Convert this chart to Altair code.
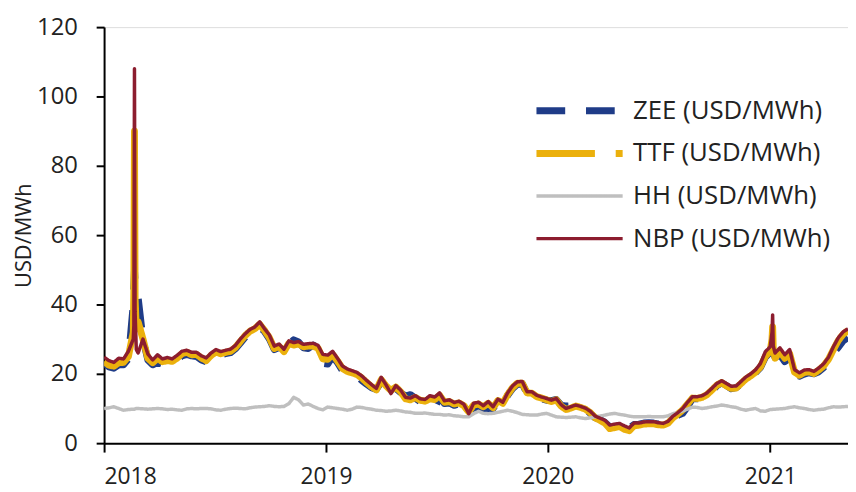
import altair as alt
import pandas as pd

# ---- series metadata ----
SERIES = ["ZEE (USD/MWh)", "TTF (USD/MWh)", "HH (USD/MWh)", "NBP (USD/MWh)"]
COLORS = ["#1F3C88", "#EBB00C", "#BFBFBF", "#8C1D2F"]
WIDTHS = [7, 7, 3.5, 3.5]
LEGEND_DASHES = [[29, 21], [59, 21, 7, 21], [1, 0], [1, 0]]
LINE_DASHES = [[29, 21], [1, 0], [1, 0], [1, 0]]

# ---- regular sampling grid (every 8 days from 2018-01-01) ----
GRID_START = "2018-01-01"
GRID_STEP = "8D"

nbp = [24.8, 23.8, 23.3, 24.5, 24.3, 26.5, 30, 26, 30, 25.7,
       24, 25.5, 24.3, 24.7, 24.3, 25.3, 26.5, 26.8, 26.2, 26.2,
       25.2, 24.6, 26, 27, 26.4, 26.8, 27.1, 28.2, 30, 31.5,
       32.8, 33.5, 35, 33, 31.2, 28, 28.6, 27.1, 29.5, 29,
       29.3, 28.5, 28.7, 28.8, 28.2, 25.6, 25.4, 26.5, 24.5, 22.3,
       21.4, 20.9, 20.4, 19.4, 18.1, 16.9, 15.8, 19, 16.8, 14.3,
       16.6, 15.3, 13.2, 13, 13.7, 12.8, 12.6, 13.7, 13.3, 14.5,
       12.2, 12.5, 11.7, 12.1, 11.2, 8.5, 11.5, 11.8, 10.8, 12,
       10.5, 12.7, 11.8, 14.5, 16.5, 17.7, 17.8, 14.8, 14.8, 13.8,
       13.3, 12.9, 12.4, 12.9, 11.1, 10, 10.5, 11, 10.6, 10.1,
       9.2, 7.8, 7.2, 6.6, 5.2, 5.5, 5.7, 5, 4.4, 5.8,
       5.8, 6.1, 6.2, 6.2, 5.9, 5.7, 6.3, 7.8, 8.8, 10,
       11.8, 13.4, 13.4, 13.7, 14.5, 15.8, 17.2, 18, 17.2, 16.4,
       16.5, 17.8, 19.1, 20, 21.2, 23, 26.4, 27.8, 26, 27.5,
       25.5, 27, 21.2, 20.3, 21.1, 21.2, 20.7, 21.7, 22.9, 24.8,
       27.8, 30.4, 32.1, 33]

ttf = [23.5, 22.5, 22.2, 23.2, 23.3, 25, 32, 35, 30, 24.5,
       23.2, 24.5, 23.5, 23.8, 23.6, 24.5, 25.8, 26.2, 25.5, 25.6,
       24.6, 23.8, 25.3, 26.3, 25.8, 26.2, 26.5, 27.6, 29.3, 31,
       32.3, 33, 34.3, 32.5, 30.4, 27.3, 27.9, 26.4, 28.8, 28.3,
       28.6, 27.8, 28, 28, 27.4, 24.3, 24.2, 25.6, 23.7, 21.6,
       20.7, 20.3, 19.8, 18.8, 17.5, 16.3, 15.4, 18.3, 16.5, 15.2,
       16.2, 14.8, 12.8, 12.5, 13.2, 12.4, 12.1, 12.8, 12.6, 13.8,
       11.8, 12, 11.3, 11.6, 10.8, 9, 11, 11.3, 10.5, 11.5,
       10.2, 12.3, 11.5, 14, 16, 17.3, 17.3, 14.5, 14.4, 13.4,
       13, 12.5, 12, 12.5, 10.7, 9.7, 10.1, 10.7, 10.3, 9.8,
       8.8, 7.3, 6.6, 5.8, 4.2, 4.5, 4.8, 4, 3.6, 5,
       5.2, 5.5, 5.6, 5.6, 5.3, 5.2, 5.8, 7.3, 8.4, 9.6,
       11.3, 13, 12.9, 13.2, 14, 15.3, 16.7, 17.5, 16.5, 15.8,
       15.9, 17.2, 18.5, 19.4, 20.5, 22, 25, 26.5, 24.5, 26.5,
       24.5, 25.8, 20.5, 19.6, 20.4, 20.6, 20.1, 21.1, 22.3, 24.2,
       27, 29.6, 31.4, 32.5]

zee = [23, 22, 21.6, 22.6, 22.6, 24.3, 40, 42, 30, 24,
       22.6, 23.3, 22.8, 23.2, 23, 23.8, 25.2, 25.6, 25.2, 25,
       24, 23.5, 24.5, 25.8, 25.5, 25.8, 26.1, 27.2, 28.8, 30.5,
       31.8, 32.4, 33.5, 32.2, 30, 27, 27.6, 26.2, 28.5, 29.8,
       29.2, 27.5, 27.3, 28.3, 27.5, 23, 22.8, 25, 23.2, 21,
       20.2, 19.8, 19.3, 18.1, 17, 16, 15.5, 17.6, 16.2, 14.5,
       15.8, 14.6, 13.6, 14, 13, 12, 11.6, 10.6, 10.2, 13.2,
       11.4, 11.6, 10.9, 11.3, 10.3, 8.2, 10.5, 10.3, 9.4, 9.8,
       10, 12, 11, 13.8, 15.7, 17, 17.2, 14.2, 14.2, 13.3,
       12.8, 12.4, 12.3, 12.6, 11, 10.7, 10.8, 10.4, 10.1, 9.6,
       8.6, 7.3, 6.8, 6, 4.7, 5, 5.1, 4.5, 4.3, 5.4,
       5.5, 5.8, 5.9, 5.8, 5.5, 5.5, 6, 7.2, 8, 8.6,
       10.5, 12.8, 12.8, 13, 13.6, 15, 16.5, 17.4, 16.6, 15.7,
       16, 17, 17.6, 19, 20.4, 21.8, 24.8, 26.2, 24.7, 25.5,
       23.5, 24.5, 20, 19.3, 19.9, 20.3, 20, 20.6, 21.8, 23.5,
       26, 27.6, 29.5, 30.5]

hh = [10, 10.2, 10.5, 10, 9.5, 9.7, 9.8, 10, 9.9, 9.8,
      9.9, 10, 9.9, 9.7, 9.8, 9.6, 9.5, 9.9, 10, 9.9,
      10, 10, 9.9, 9.6, 9.5, 9.8, 10, 10.1, 10, 9.9,
      10.2, 10.4, 10.5, 10.6, 10.8, 10.6, 10.5, 10.6, 11.4, 13.2,
      12.5, 11, 11.3, 10.6, 10, 9.6, 10.4, 10.2, 10, 9.8,
      9.5, 9.8, 10.4, 10.3, 10, 9.8, 9.5, 9.4, 9.2, 9.3,
      9.5, 9.3, 9, 8.9, 8.6, 8.6, 8.7, 8.5, 8.3, 8.3,
      8.1, 8.2, 7.9, 7.8, 7.6, 7.6, 8.5, 9.2, 8.6, 8.5,
      8.6, 8.9, 9.2, 9.5, 9.2, 8.8, 8.3, 8.2, 8.1, 8.1,
      8.4, 8.6, 8.1, 7.6, 7.5, 7.4, 7.5, 7.6, 7.3, 7.1,
      7.3, 7.6, 7.8, 8.1, 8.4, 8.6, 8.3, 8.1, 7.8, 7.6,
      7.6, 7.6, 7.7, 7.6, 7.6, 7.6, 7.9, 8.5, 8.8, 9.3,
      9.8, 10.4, 10.3, 10, 10.2, 10.5, 10.7, 11, 10.8, 10.5,
      10.3, 9.8, 9.5, 9.8, 10, 9.3, 9.2, 9.7, 9.8, 9.9,
      10, 10.3, 10.5, 10.2, 10, 9.7, 9.5, 9.7, 9.8, 10.2,
      10.5, 10.4, 10.5, 10.6]

# ---- extra daily points around the two price spikes ----
extra_dates = ["2018-02-19", "2018-02-20", "2018-02-21", "2018-02-23",
               "2021-01-04", "2021-01-05", "2021-01-06"]
nbp_extra = [34, 108, 38, 27, 32, 37, 28]
ttf_extra = [44, 90, 42, 33, 30, 33.5, 27]
zee_extra = [45, 50, 46, 43, 28, 30, 26]
hh_extra = [9.8, 9.8, 9.9, 10, 9.7, 9.8, 9.8]

grid_dates = pd.date_range(GRID_START, periods=len(nbp), freq=GRID_STEP)
all_dates = list(grid_dates) + list(pd.to_datetime(extra_dates))
values = {
    SERIES[0]: zee + zee_extra,
    SERIES[1]: ttf + ttf_extra,
    SERIES[2]: hh + hh_extra,
    SERIES[3]: nbp + nbp_extra,
}
rows = []
for s in SERIES:
    for d, v in zip(all_dates, values[s]):
        rows.append({"date": d, "series": s, "value": v})
df = pd.DataFrame(rows).sort_values(["series", "date"])

FONT = "Open Sans"
TXT = "#222222"

legend = alt.Legend(
    title=None, orient="none", legendX=433, legendY=63,
    symbolType="stroke", symbolSize=7569, labelFontSize=26,
    labelFont=FONT, labelColor=TXT, labelOffset=7, rowPadding=0,
    clipHeight=43, padding=0, labelLimit=400,
)

years = [alt.DateTime(year=y, month=1, date=1) for y in [2018, 2019, 2020, 2021]]

x_enc = alt.X("date:T",
              scale=alt.Scale(domain=[alt.DateTime(year=2018, month=1, date=1),
                                      alt.DateTime(year=2021, month=5, date=9)]),
              axis=alt.Axis(values=years, format="%Y", title=None, grid=False,
                            labelFontSize=23, labelFont=FONT, labelColor=TXT,
                            labelPadding=14, tickSize=9, tickWidth=2, tickColor="#000",
                            domainColor="#000", domainWidth=2))
y_enc = alt.Y("value:Q",
              scale=alt.Scale(domain=[0, 120]),
              axis=alt.Axis(values=[0, 20, 40, 60, 80, 100, 120], title="USD/MWh",
                            grid=False, labelFontSize=24, labelFont=FONT, labelColor=TXT,
                            labelPadding=19, tickSize=8, tickWidth=2, tickColor="#000",
                            domainColor="#000", domainWidth=2,
                            titleFont=FONT, titleFontSize=22, titleFontWeight="normal",
                            titleColor=TXT, titlePadding=1))

# visible series lines, drawn in legend order (ZEE at the bottom, NBP on top)
layers = []
for s, col, w, dash in zip(SERIES, COLORS, WIDTHS, LINE_DASHES):
    layers.append(
        alt.Chart(df).transform_filter(alt.datum.series == s)
        .mark_line(color=col, strokeWidth=w, strokeDash=dash,
                   strokeCap="butt", strokeJoin="round", clip=True)
        .encode(x=x_enc, y=y_enc)
    )

# legend carrier (no visible marks): colour, dash pattern and width per series
legend_layer = (
    alt.Chart(df).transform_filter(alt.datum.value < -1000)
    .mark_line()
    .encode(
        x=x_enc, y=y_enc,
        color=alt.Color("series:N", scale=alt.Scale(domain=SERIES, range=COLORS), legend=legend),
        strokeDash=alt.StrokeDash("series:N", scale=alt.Scale(type="ordinal", domain=SERIES, range=LEGEND_DASHES), legend=legend),
        strokeWidth=alt.StrokeWidth("series:N", scale=alt.Scale(type="ordinal", domain=SERIES, range=WIDTHS), legend=legend),
    )
)

chart = alt.layer(*layers, legend_layer).properties(
    width=751, height=420,
    autosize=alt.AutoSizeParams(type="none"),
    padding={"left": 97, "top": 17, "right": 0, "bottom": 47},
).configure_view(stroke=None).configure(background="white")

chart.save("out.html", embed_options={"renderer": "svg", "actions": False})
